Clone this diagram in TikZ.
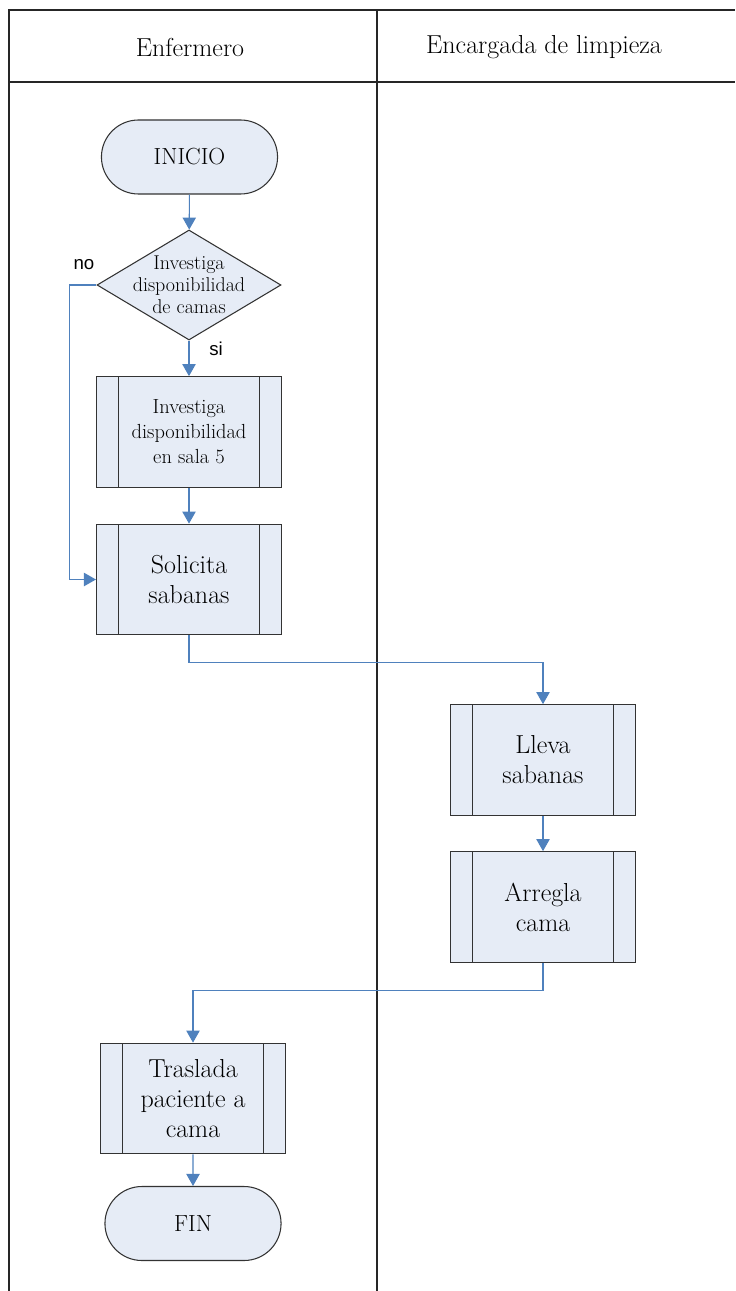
\documentclass[tikz,border=0pt]{standalone}
\usepackage{fontspec}
\newfontfamily\labelfont{Liberation Sans}
\usetikzlibrary{shapes.geometric, shapes.misc, arrows.meta}

\definecolor{cajafondo}{RGB}{230,236,246}
\definecolor{flecha}{RGB}{79,129,189}

\begin{document}
\begin{tikzpicture}[
        x=0.75pt, y=-0.75pt,
        tabla/.style={black!85, line width=0.8pt},
        encabezado/.style={font=\fontsize{19.5}{23}\selectfont},
        terminal/.style={rounded rectangle, draw=black!80, line width=0.8pt, fill=cajafondo,
            minimum width=138.75pt, minimum height=55.5pt, font=\fontsize{17.5}{21}\selectfont},
        decision/.style={diamond, draw=black!80, line width=0.8pt, fill=cajafondo,
            minimum width=138pt, minimum height=82.5pt, inner sep=0pt},
        proceso/.style={rectangle, draw=black!80, line width=0.8pt, fill=cajafondo,
            minimum width=138.75pt, minimum height=83pt, align=center, inner sep=0pt,
            path picture={
                \draw[black!80, line width=0.8pt]
                    ([xshift=16.5pt]path picture bounding box.north west) -- ([xshift=16.5pt]path picture bounding box.south west)
                    ([xshift=-16.5pt]path picture bounding box.north east) -- ([xshift=-16.5pt]path picture bounding box.south east);
            }},
        chico/.style={font=\fontsize{15.3}{18.7}\selectfont},
        grande/.style={font=\fontsize{19.5}{22.5}\selectfont},
        conector/.style={flecha, line width=0.8pt},
        flujo/.style={conector, -{Triangle[width=10pt, length=9pt]}},
        rama/.style={font=\labelfont\fontsize{14}{16}\selectfont}
    ]
        \useasboundingbox (0,0) rectangle (735,1291);

        % Tabla de carriles
        \draw[tabla] (9,1291) -- (9,10) -- (735,10);
        \draw[tabla] (9,82) -- (735,82);
        \draw[tabla] (377,10) -- (377,1291);
        \node[encabezado] (carril1) at (190,47) {Enfermero};
        \node[encabezado] (carril2) at (544,47) {Encargada de limpieza};

        % Nodos del proceso
        \node[terminal] (inicio) at (189.5,157) {INICIO};
        \node[decision, label={[align=center, font=\fontsize{15}{16.5}\selectfont]center:Investiga\\disponibilidad\\de camas}] (camas) at (189,285) {};
        \node[proceso, chico] (sala) at (189,432) {Investiga\\disponibilidad\\en sala 5};
        \node[proceso, grande] (solicita) at (189,579.5) {Solicita\\sabanas};
        \node[proceso, grande] (lleva) at (543,760) {Lleva\\sabanas};
        \node[proceso, grande] (arregla) at (543,907) {Arregla\\cama};
        \node[proceso, grande] (traslada) at (193,1098.5) {Traslada\\paciente a\\cama};
        \node[terminal] (fin) at (193,1223.5) {FIN};

        % Etiquetas de la decision
        \node[rama] (no) at (84,265) {no};
        \node[rama] (si) at (216,349) {si};

        % Conectores
        \draw[flujo] (inicio) -- (camas);
        \draw[flujo] (camas) -- (sala);
        \draw[flujo] (camas.west) -- ++(-27,0) |- (solicita.west);
        \draw[flujo] (sala) -- (solicita);
        \draw[flujo] (solicita.south) -- ++(0,27) -| (lleva.north);
        \draw[flujo] (lleva) -- (arregla);
        \draw[flujo] (arregla.south) -- ++(0,28) -| (traslada.north);
        \draw[flujo] (traslada) -- (fin);
    \end{tikzpicture}
\end{document}
